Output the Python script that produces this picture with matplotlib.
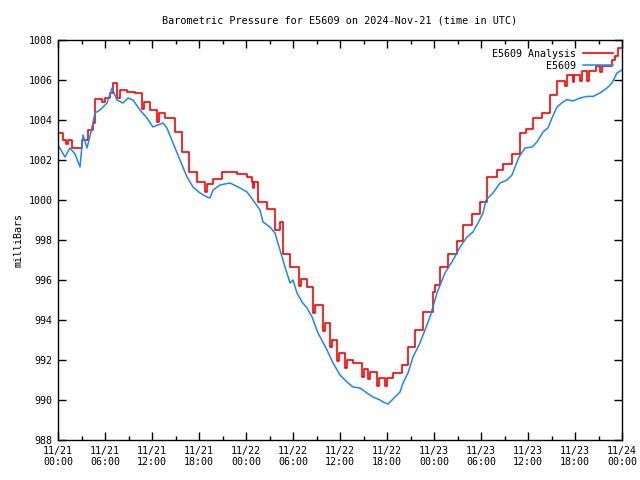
import matplotlib
matplotlib.use("Agg")
import matplotlib.pyplot as plt
from matplotlib.ticker import MultipleLocator, FixedLocator
import numpy as np

plt.rcParams['font.family'] = ['DejaVu Sans Mono']

title = "Barometric Pressure for E5609 on 2024-Nov-21 (time in UTC)"
ylabel = "milliBars"
series_names = ["E5609 Analysis", "E5609"]
x_tick_hours = [0, 6, 12, 18, 24, 30, 36, 42, 48, 54, 60, 66, 72]
x_tick_labels = ["11/21\n00:00", "11/21\n06:00", "11/21\n12:00", "11/21\n18:00",
                 "11/22\n00:00", "11/22\n06:00", "11/22\n12:00", "11/22\n18:00",
                 "11/23\n00:00", "11/23\n06:00", "11/23\n12:00", "11/23\n18:00",
                 "11/24\n00:00"]

# Observed station pressure (hours since 11/21 00:00 UTC)
obs_hours = [0.00, 0.89, 1.53, 2.17, 2.81, 3.19, 3.70, 4.21, 4.72, 5.36, 6.26, 6.89,
             7.53, 8.30, 8.94, 9.57, 10.47, 11.36, 12.13, 13.40, 13.91, 14.68, 15.57,
             16.47, 17.23, 18.13, 19.02, 19.40, 19.79, 20.68, 21.96, 23.23, 24.13,
             24.89, 25.79, 26.17, 27.06, 27.70, 28.34, 28.98, 29.62, 30.00, 30.51,
             31.15, 31.79, 32.43, 33.19, 34.34, 35.11, 36.00, 36.89, 37.66, 38.55,
             39.45, 40.21, 41.11, 41.49, 42.13, 43.02, 43.66, 44.04, 44.68, 45.32,
             46.21, 46.85, 47.49, 48.38, 49.40, 50.43, 51.32, 52.21, 52.98, 53.62,
             54.26, 54.64, 55.53, 56.43, 57.32, 57.96, 58.34, 58.85, 59.62, 60.51,
             61.15, 61.91, 62.55, 63.06, 63.70, 64.47, 64.98, 65.74, 66.64, 67.53,
             68.30, 69.19, 70.09, 70.72, 71.36, 72.00]
obs_values = [1002.75, 1002.15, 1002.6, 1002.3, 1001.65, 1003.25, 1002.6, 1003.4,
              1004.35, 1004.5, 1004.85, 1005.6, 1005.0, 1004.85, 1005.1, 1005.0,
              1004.5, 1004.1, 1003.65, 1003.85, 1003.6, 1002.85, 1002.0, 1001.15,
              1000.65, 1000.35, 1000.15, 1000.1, 1000.5, 1000.75, 1000.85, 1000.6,
              1000.4, 1000.0, 999.5, 998.9, 998.65, 998.35, 997.5, 996.65, 995.85,
              996.0, 995.35, 994.9, 994.6, 994.15, 993.35, 992.5, 991.85, 991.25,
              990.9, 990.65, 990.6, 990.35, 990.15, 990.0, 989.9, 989.8, 990.15,
              990.4, 990.85, 991.35, 992.15, 992.85, 993.5, 994.15, 995.35, 996.35,
              997.0, 997.65, 998.15, 998.4, 998.85, 999.35, 1000.0, 1000.35, 1000.85,
              1001.0, 1001.25, 1001.65, 1002.15, 1002.6, 1002.65, 1002.9, 1003.4,
              1003.6, 1004.1, 1004.65, 1004.9, 1005.02, 1004.95, 1005.1, 1005.18,
              1005.18, 1005.35, 1005.6, 1005.85, 1006.35, 1006.5]

# Analysis pressure (step values, hours since 11/21 00:00 UTC)
ana_hours = [0.00, 0.64, 1.02, 1.22, 1.79, 3.06, 3.83, 4.47, 4.72, 5.62, 6.00, 6.64,
             7.02, 7.53, 7.91, 8.81, 9.83, 10.72, 10.92, 11.74, 12.64, 12.84, 13.66,
             14.94, 15.83, 16.72, 17.74, 18.77, 18.97, 19.79, 20.94, 22.85, 24.13,
             24.77, 24.89, 25.05, 25.53, 26.68, 27.70, 28.34, 28.72, 29.62, 30.77,
             30.97, 31.79, 32.55, 32.75, 33.83, 34.03, 34.75, 34.95, 35.64, 35.84,
             36.64, 36.84, 37.66, 38.81, 39.01, 39.57, 39.77, 40.72, 40.92, 41.74,
             41.94, 42.77, 43.91, 44.68, 45.57, 46.60, 47.87, 48.13, 48.77, 49.79,
             50.94, 51.70, 52.85, 53.87, 54.77, 56.04, 56.81, 57.96, 58.98, 59.74,
             60.64, 61.79, 62.81, 63.70, 64.72, 64.92, 65.70, 65.90, 66.64, 66.84,
             67.53, 67.73, 68.68, 69.19, 69.39, 70.72, 71.11, 71.49, 72.00]
ana_values = [1003.37, 1003.0, 1002.8, 1003.0, 1002.6, 1003.0, 1003.5, 1003.85, 1005.05,
              1004.9, 1005.1, 1005.35, 1005.83, 1005.1, 1005.5, 1005.42, 1005.33,
              1004.55, 1004.92, 1004.5, 1003.92, 1004.33, 1004.08, 1003.4, 1002.42,
              1001.4, 1000.92, 1000.42, 1000.8, 1001.05, 1001.42, 1001.3, 1001.17,
              1000.92, 1000.6, 1000.92, 999.92, 999.53, 998.5, 998.92, 997.28, 996.67,
              995.7, 996.05, 995.65, 994.37, 994.75, 993.45, 993.83, 992.67, 993.0,
              991.95, 992.33, 991.58, 992.0, 991.83, 991.13, 991.53, 991.03, 991.4,
              990.7, 991.1, 990.7, 991.1, 991.33, 991.75, 992.67, 993.5, 994.42,
              995.42, 995.75, 996.67, 997.3, 997.97, 998.75, 999.28, 999.92, 1001.17,
              1001.5, 1001.8, 1002.3, 1003.33, 1003.53, 1004.08, 1004.37, 1005.27,
              1005.93, 1005.68, 1006.23, 1005.9, 1006.23, 1005.97, 1006.43, 1005.97,
              1006.43, 1006.68, 1006.4, 1006.68, 1007.02, 1007.18, 1007.6, 1007.6]

fig = plt.figure(figsize=(6.4, 4.8), dpi=100)
ax = fig.add_axes([58/640, 1-440/480, 564/640, 400/480])

ax.plot(ana_hours, ana_values, drawstyle='steps-post', color='#ff0000', lw=1.2,
        label=series_names[0])
ax.plot(obs_hours, obs_values, color='#1a86ff', lw=1.1, label=series_names[1])

ax.set_xlim(0, 72)
ax.set_ylim(988, 1008)
ax.xaxis.set_major_locator(FixedLocator(x_tick_hours))
ax.set_xticklabels(x_tick_labels)
ax.xaxis.set_minor_locator(MultipleLocator(3))
ax.yaxis.set_major_locator(MultipleLocator(2))
ax.tick_params(which='both', direction='in', top=True, right=True, labelsize=7.2,
               width=1, color='black')
ax.tick_params(which='major', length=6, pad=4)
ax.tick_params(which='minor', length=3)
for s in ax.spines.values():
    s.set_linewidth(1.0)

ax.set_title(title, fontsize=7.3, pad=12)
ax.set_ylabel(ylabel, fontsize=7.2, va='center')
ax.yaxis.set_label_coords(-40/564, 0.5)

leg = ax.legend(loc='upper right', frameon=False, markerfirst=False, fontsize=7.2,
                handlelength=3.0, handletextpad=0.7, labelspacing=0.2,
                borderaxespad=0.5)
for t in leg.get_texts():
    t.set_ha('right')

fig.savefig('out.png', dpi=100)
